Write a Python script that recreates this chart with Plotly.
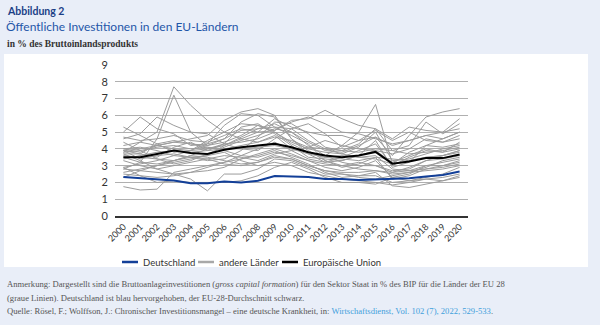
import plotly.graph_objects as go

years = [str(y) for y in range(2000, 2021)]

deutschland = [2.32, 2.25, 2.18, 2.12, 1.95, 1.95, 2.05, 2.0, 2.1, 2.38, 2.35, 2.32,
               2.2, 2.2, 2.15, 2.17, 2.2, 2.25, 2.35, 2.45, 2.65]
eu_mittel = [3.5, 3.5, 3.7, 3.9, 3.75, 3.7, 3.95, 4.1, 4.2, 4.3, 4.1, 3.8,
             3.6, 3.5, 3.6, 3.82, 3.12, 3.25, 3.45, 3.45, 3.67]

# Gross public fixed capital formation of the other EU-28 member states
andere = [
    [3.8, 4.4, 5.0, 7.7, 6.6, 5.7, 5.0, 4.6, 4.4, 4.8, 4.0, 3.8, 3.5, 3.6, 3.5, 3.4, 3.1, 3.3, 3.5, 3.6, 3.9],
    [2.8, 3.2, 4.6, 7.2, 5.0, 4.2, 4.6, 5.6, 6.1, 5.9, 4.6, 3.9, 3.3, 3.0, 3.2, 3.0, 2.6, 2.9, 3.3, 3.6, 3.9],
    [5.0, 5.9, 5.2, 4.9, 4.2, 4.3, 5.4, 6.1, 6.0, 5.3, 5.2, 5.5, 4.9, 4.1, 4.5, 5.1, 4.5, 5.0, 4.5, 4.4, 4.6],
    [5.3, 4.8, 4.3, 3.8, 3.9, 4.0, 4.2, 4.6, 5.0, 5.8, 5.3, 5.0, 4.8, 4.8, 4.5, 4.7, 4.2, 4.5, 4.8, 4.6, 5.0],
    [3.6, 3.5, 3.4, 3.3, 3.6, 4.0, 4.3, 4.4, 4.6, 5.0, 4.3, 3.8, 3.6, 4.2, 5.0, 6.65, 3.1, 3.8, 4.2, 4.1, 4.3],
    [3.9, 3.4, 3.6, 3.7, 3.5, 3.6, 4.2, 4.7, 5.2, 5.5, 5.0, 4.4, 3.9, 3.8, 4.2, 4.7, 3.6, 4.8, 5.9, 6.2, 6.4],
    [4.2, 4.4, 4.2, 4.0, 3.9, 4.5, 5.0, 5.5, 5.4, 5.1, 5.7, 5.8, 6.3, 5.8, 5.4, 5.2, 4.6, 5.3, 5.1, 5.0, 5.8],
    [4.0, 3.8, 4.2, 4.4, 4.6, 4.8, 5.7, 6.2, 6.4, 6.0, 4.6, 3.7, 3.2, 3.5, 3.9, 4.3, 3.0, 3.5, 3.9, 3.8, 4.4],
    [1.75, 1.55, 1.6, 2.6, 2.8, 3.0, 3.2, 3.4, 3.6, 3.9, 3.5, 3.1, 2.6, 2.3, 2.4, 2.4, 2.0, 2.1, 2.3, 2.5, 2.9],
    [2.8, 2.7, 2.6, 2.5, 2.2, 1.5, 2.5, 2.5, 2.8, 3.4, 3.3, 2.9, 2.5, 2.5, 2.4, 2.6, 1.8, 1.7, 1.9, 2.1, 2.4],
    [2.9, 2.4, 2.0, 2.1, 2.0, 2.0, 2.0, 2.1, 2.4, 2.9, 3.2, 2.8, 2.3, 2.0, 2.0, 1.9, 2.3, 2.1, 2.2, 2.1, 2.3],
    [3.4, 3.6, 3.8, 3.9, 3.8, 3.9, 4.0, 4.0, 4.1, 4.2, 4.0, 3.7, 3.5, 3.4, 3.3, 3.5, 3.4, 3.3, 3.5, 3.6, 3.8],
    [3.8, 3.9, 4.1, 4.2, 4.0, 4.1, 3.9, 3.6, 3.5, 3.8, 3.6, 3.3, 3.1, 3.0, 2.8, 2.7, 2.6, 2.7, 2.8, 2.9, 3.1],
    [3.3, 3.0, 2.8, 3.0, 3.2, 3.4, 3.6, 3.5, 3.3, 3.7, 3.9, 4.1, 4.5, 4.2, 4.0, 3.9, 3.7, 4.0, 4.6, 4.4, 4.8],
    [4.6, 4.9, 5.9, 5.4, 5.0, 4.9, 4.3, 4.0, 3.9, 4.6, 5.2, 4.5, 4.0, 3.7, 3.5, 3.6, 2.8, 2.7, 3.0, 3.2, 3.4],
    [3.7, 3.7, 4.3, 4.5, 4.3, 4.2, 4.4, 4.8, 5.4, 5.0, 4.4, 4.0, 3.8, 3.7, 4.1, 5.0, 3.3, 3.4, 3.7, 4.0, 4.2],
    [4.0, 4.1, 3.9, 3.6, 3.5, 3.3, 3.4, 3.9, 4.7, 5.6, 5.5, 4.9, 4.1, 3.9, 4.3, 5.2, 3.9, 4.2, 5.6, 4.9, 5.5],
    [2.6, 2.8, 3.0, 3.2, 3.4, 3.6, 3.8, 3.3, 3.0, 3.2, 3.0, 2.6, 2.4, 2.2, 2.1, 2.0, 1.85, 2.0, 2.2, 2.3, 2.5],
    [3.9, 3.7, 3.5, 4.1, 4.4, 3.9, 4.3, 5.3, 5.5, 4.9, 4.2, 3.5, 3.4, 3.3, 3.6, 4.5, 2.9, 3.2, 4.2, 4.6, 5.0],
    [4.4, 3.9, 3.4, 3.1, 3.3, 3.7, 4.1, 4.5, 4.8, 5.2, 5.0, 4.2, 3.6, 3.2, 3.0, 3.0, 2.7, 2.8, 3.3, 3.4, 3.6],
    [2.3, 2.7, 3.0, 3.3, 3.5, 3.4, 3.1, 3.0, 3.2, 3.5, 3.4, 3.0, 2.7, 2.5, 2.3, 2.2, 2.4, 2.6, 2.7, 2.8, 3.0],
    [3.9, 4.0, 4.2, 4.4, 4.3, 4.1, 4.0, 4.2, 4.4, 4.7, 4.5, 4.1, 4.0, 3.9, 3.8, 4.0, 3.9, 3.7, 3.8, 3.9, 4.1],
    [2.9, 3.1, 3.3, 3.6, 3.9, 4.3, 4.6, 5.1, 5.2, 5.3, 4.8, 4.3, 3.3, 2.9, 3.1, 3.5, 2.2, 2.4, 2.8, 3.0, 3.3],
    [3.5, 3.2, 3.1, 3.3, 3.6, 3.5, 3.3, 3.1, 3.2, 3.6, 3.4, 3.0, 2.7, 2.6, 2.6, 2.7, 2.5, 2.6, 2.9, 3.3, 3.5],
    [4.7, 4.5, 4.6, 4.8, 4.5, 4.4, 4.8, 5.2, 5.0, 5.1, 5.6, 5.9, 5.5, 5.0, 4.9, 4.6, 4.3, 4.5, 4.8, 5.0, 5.2],
    [2.5, 2.4, 2.3, 2.4, 2.6, 2.7, 2.9, 3.4, 3.7, 4.0, 3.7, 3.3, 2.9, 2.7, 2.9, 3.3, 2.3, 2.5, 3.0, 3.0, 3.2],
    [3.7, 3.3, 2.8, 2.5, 2.6, 2.9, 3.2, 3.6, 4.0, 4.4, 3.9, 3.4, 3.2, 3.3, 3.6, 3.9, 3.2, 3.6, 4.0, 3.8, 4.0],
]

y_ticks = list(range(0, 10))

legend_items = [("Deutschland", "#123f98"), ("andere Länder", "#a8a8a8"), ("Europäische Union", "#000000")]

BG = "#e9eef8"
SANS = "Lato, 'Open Sans', sans-serif"
SERIF = "'Liberation Serif', 'DejaVu Serif', serif"

# plot area in pixels
W, H = 600, 325
L, R, T, B = 115, 468, 65, 216


def px(x):
    return (x - L) / (R - L)


def py(y):
    return (B - y) / (B - T)


fig = go.Figure()

for serie in andere:
    fig.add_trace(go.Scatter(
        x=years, y=serie, mode="lines",
        line=dict(color="#9c9c9c", width=1),
        name="andere Länder", showlegend=False, hoverinfo="skip",
    ))

fig.add_trace(go.Scatter(
    x=years, y=deutschland, mode="lines", name="Deutschland",
    line=dict(color="#123f98", width=2), showlegend=False,
))
fig.add_trace(go.Scatter(
    x=years, y=eu_mittel, mode="lines", name="Europäische Union",
    line=dict(color="#000000", width=2), showlegend=False,
))

annotations = [
    dict(text="<b>Abbildung 2</b>", x=px(5), y=py(11), font=dict(family=SANS, size=10.5, color="#1b3f86")),
    dict(text="Öffentliche Investitionen in den EU-Ländern", x=px(4), y=py(26),
         font=dict(family=SANS, size=12, color="#1f56a8")),
    dict(text="<b>in % des Bruttoinlandsprodukts</b>", x=px(5), y=py(44),
         font=dict(family=SERIF, size=9.5, color="#333333")),
    dict(text="Anmerkung: Dargestellt sind die Bruttoanlageinvestitionen (<i>gross capital formation</i>) "
              "für den Sektor Staat in % des BIP für die Länder der EU 28",
         x=px(5), y=py(284), font=dict(family=SERIF, size=8.6, color="#555555")),
    dict(text="(graue Linien). Deutschland ist blau hervorgehoben, der EU-28-Durchschnitt schwarz.",
         x=px(5), y=py(298), font=dict(family=SERIF, size=8.6, color="#555555")),
    dict(text="Quelle: Rösel, F.; Wolffson, J.: Chronischer Investitionsmangel – eine deutsche Krankheit, in: "
              "<span style='color:#3fa0dc'>Wirtschaftsdienst, Vol. 102 (7), 2022, 529-533</span>.",
         x=px(5), y=py(311), font=dict(family=SERIF, size=8.6, color="#555555")),
]

shapes = [dict(type="rect", xref="paper", yref="paper", layer="below",
               x0=px(4), x1=px(588), y0=py(54), y1=py(267),
               fillcolor="#ffffff", line=dict(width=0))]

# legend row below the axis
legend_x = [122, 198, 282]
for (label, color), x0 in zip(legend_items, legend_x):
    shapes.append(dict(type="line", xref="paper", yref="paper",
                       x0=px(x0), x1=px(x0 + 16), y0=py(262), y1=py(262),
                       line=dict(color=color, width=2.5)))
    annotations.append(dict(text=label, x=px(x0 + 19), y=py(262),
                            font=dict(family=SANS, size=9.5, color="#333333")))

for a in annotations:
    a.update(xref="paper", yref="paper", xanchor="left", yanchor="middle", showarrow=False, align="left")

fig.update_layout(
    width=W, height=H,
    margin=dict(l=L, r=W - R, t=T, b=H - B, pad=0),
    paper_bgcolor=BG, plot_bgcolor="#ffffff",
    font=dict(family=SANS, size=10, color="#333333"),
    annotations=annotations,
    shapes=shapes,
    showlegend=False,
)

fig.update_xaxes(
    type="category", range=[-0.5, 20.5], tickangle=-45,
    showgrid=False, ticks="", showline=True, linecolor="#333333", linewidth=2,
    tickfont=dict(family=SANS, size=9, color="#333333"),
)
fig.update_yaxes(
    range=[0, 9], tickvals=y_ticks, showgrid=True, gridcolor="#b0b0b0", gridwidth=1,
    zeroline=False, ticks="", ticklabelstandoff=6,
    tickfont=dict(family=SANS, size=11, color="#333333"),
)

fig.write_html("out.html")
